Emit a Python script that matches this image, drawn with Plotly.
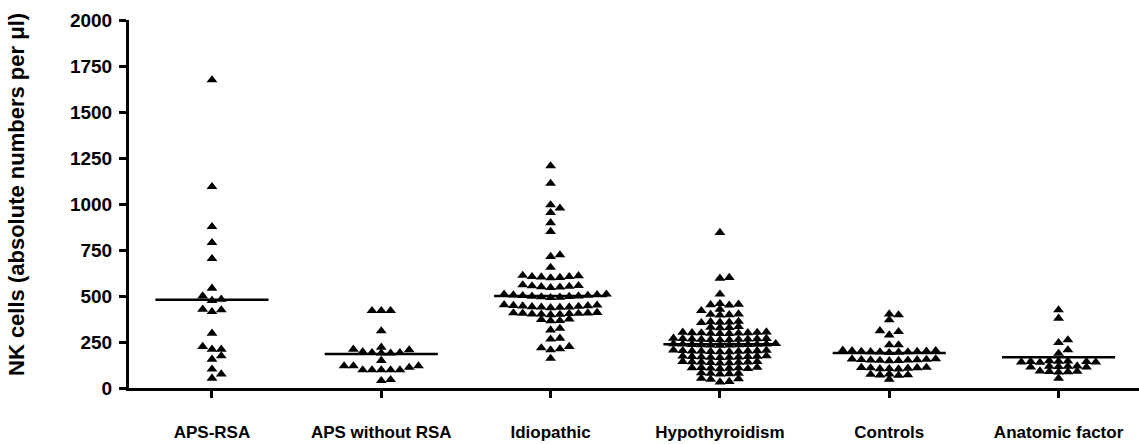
import plotly.graph_objects as go

# ---------------- data ----------------
categories = ["APS-RSA", "APS without RSA", "Idiopathic", "Hypothyroidism", "Controls", "Anatomic factor"]

aps_rsa = [1674, 1094, 877, 790, 703, 542, 482, 475, 500, 428, 415, 424, 297,
           210, 225, 210, 174, 156, 102, 53, 76]

aps_without_rsa = [420, 420, 420, 310, 192, 210, 189, 197, 207, 221, 192, 189, 149,
                   112, 120, 98, 98, 98, 98, 98, 120, 120, 40, 45]

idiopathic = [1207, 1112, 977, 995, 953, 898, 850, 723, 714, 655,
              610, 605, 600, 605, 612, 598, 603,
              555, 548, 552, 560, 545, 550, 556,
              505, 498, 502, 510, 495, 500, 507, 493, 503, 497, 509, 491,
              445, 440, 448, 438, 452, 443, 436, 447, 441, 450, 439,
              407, 405, 402, 408, 400, 410, 398, 406, 404, 401,
              372, 365, 375, 366,
              324, 315, 270, 265,
              225, 218, 212, 207, 161]

hypothyroidism = [845, 600, 596, 510,
                  458, 452, 455, 450, 428, 420,
                  402, 398, 400, 396,
                  362, 358, 360, 355, 357,
                  333, 328, 330, 327,
                  300, 298, 302, 296, 300, 304, 295, 297, 303, 299,
                  268, 265, 266, 262, 264, 270, 261, 267, 263, 269, 264,
                  238, 235, 236, 233, 237, 240, 232, 236, 234, 239, 233, 241,
                  204, 200, 202, 198, 201, 206, 197, 199, 203, 196, 201,
                  172, 168, 170, 166, 171, 174, 165, 169, 173, 167,
                  142, 138, 140, 136, 141, 144, 135, 139, 143,
                  110, 107, 109, 105, 108, 112, 104, 111,
                  80, 77, 79, 75, 82,
                  50, 47, 52, 32, 35]

controls = [402, 397, 370, 311, 306, 288, 234, 234,
            197, 200, 195, 202, 198, 205, 192, 199, 196, 203, 194,
            152, 155, 150, 157, 148, 154, 151, 158, 149, 153,
            107, 110, 104, 112, 105, 109, 103, 111,
            71, 74, 68, 76, 70, 47]

anatomic_factor = [424, 379, 261, 246, 207, 188,
                   143, 146, 140, 148, 141, 145, 139, 144,
                   116, 119, 113, 118, 114, 117,
                   89, 92, 86, 90, 88, 53]

center_lines = [480, 185, 500, 238, 190, 167]

y_tick_values = [0, 250, 500, 750, 1000, 1250, 1500, 1750, 2000]
y_title = "NK cells (absolute numbers per μl)"

groups = [aps_rsa, aps_without_rsa, idiopathic, hypothyroidism, controls, anatomic_factor]

# ---------------- layout constants ----------------
W, H = 1139, 444
ML, MR, MT, MB = 129, 0, 20, 56
X_MIN, X_MAX = -0.49, 5.475
Y_MIN, Y_MAX = 0, 2000
PX_PER_X = (W - ML - MR) / (X_MAX - X_MIN)
PX_PER_Y = (H - MT - MB) / (Y_MAX - Y_MIN)
HALF_LINE = 0.334


def swarm_offsets(values, d_px=9.3, h_px=5.2):
    """Simple beeswarm: horizontal offsets (axis units) so markers don't overlap."""
    order = sorted(range(len(values)), key=lambda i: values[i])
    cands = [0.0]
    for j in range(1, 80):
        cands += [j * d_px / 2, -j * d_px / 2]
    placed = []
    offs = [0.0] * len(values)
    for i in order:
        y = values[i] * PX_PER_Y
        chosen = cands[-1]
        for c in cands:
            if all(not (abs(c - px) < d_px * 0.98 and abs(y - py) < h_px) for px, py in placed):
                chosen = c
                break
        placed.append((chosen, y))
        offs[i] = chosen / PX_PER_X
    return offs


fig = go.Figure()

for gi, vals in enumerate(groups):
    offs = swarm_offsets(vals)
    fig.add_trace(go.Scatter(
        x=[gi + o for o in offs], y=vals, mode="markers",
        marker=dict(symbol="triangle-up", size=9.5, color="black", line=dict(width=0)),
        cliponaxis=False, showlegend=False, hoverinfo="y"))
    fig.add_trace(go.Scatter(
        x=[gi - HALF_LINE, gi + HALF_LINE], y=[center_lines[gi]] * 2, mode="lines",
        line=dict(color="black", width=2.5), cliponaxis=False, showlegend=False,
        hoverinfo="skip"))

font_family = "Liberation Sans, Arial, Helvetica, sans-serif"

fig.update_layout(
    width=W, height=H,
    margin=dict(l=ML, r=MR, t=MT, b=MB),
    plot_bgcolor="white", paper_bgcolor="white",
    font=dict(family=font_family, color="black"),
    xaxis=dict(
        range=[X_MIN, X_MAX], tickmode="array", tickvals=list(range(len(categories))),
        ticktext=categories, ticks="outside", ticklen=7, tickwidth=2.5, tickcolor="black",
        showline=True, linewidth=3, linecolor="black", showgrid=False, zeroline=False,
        tickfont=dict(size=17, weight="bold", family=font_family),
        ticklabelstandoff=20),
    yaxis=dict(
        range=[Y_MIN, Y_MAX], tickmode="array", tickvals=y_tick_values,
        ticks="outside", ticklen=7, tickwidth=2.5, tickcolor="black",
        showline=True, linewidth=3, linecolor="black", showgrid=False, zeroline=False,
        tickfont=dict(size=19, weight="bold", family=font_family),
        ticklabelstandoff=3),
    annotations=[dict(
        text=y_title, textangle=-90, xref="paper", yref="paper",
        x=(17 - ML) / (W - ML - MR), y=(H - MB - 195) / (H - MT - MB),
        xanchor="center", yanchor="middle", showarrow=False,
        font=dict(size=22, weight="bold", family=font_family))],
)

fig.write_html("out.html", config={"displayModeBar": False},
               post_script="document.body.style.margin='0';")
